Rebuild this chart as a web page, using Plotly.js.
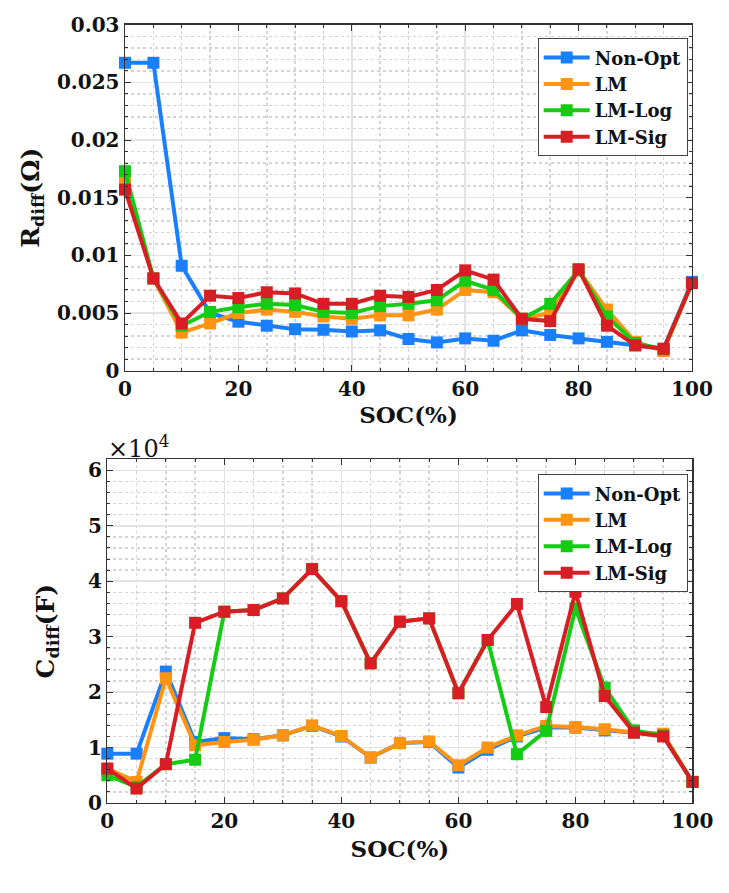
<!DOCTYPE html>
<html>
<head>
<meta charset="utf-8">
<script src="https://cdn.plot.ly/plotly-3.0.1.min.js"></script>
<style>
  html, body { margin: 0; padding: 0; background: #fff; }
  #chart { width: 729px; height: 893px; }
</style>
</head>
<body>
<div id="chart"></div>
<script>
// SOC points, every 5 %
var soc = [0, 5, 10, 15, 20, 25, 30, 35, 40, 45, 50, 55, 60, 65, 70, 75, 80, 85, 90, 95, 100];

var seriesNames = ['Non-Opt', 'LM', 'LM-Log', 'LM-Sig'];
var seriesColors = ['#1a7fff', '#ff9412', '#14cc14', '#d81e24'];

// R_diff (Ohm)
var rNonOpt = [0.0267, 0.0267, 0.0091, 0.0050, 0.00425, 0.0039, 0.0036, 0.00355, 0.0034, 0.0035, 0.00275,
               0.00245, 0.0028, 0.0026, 0.0035, 0.0031, 0.0028, 0.0025, 0.0022, 0.0019, 0.0077];
var rLM    = [0.0165, 0.0080, 0.0033, 0.0041, 0.0050, 0.0053, 0.0051, 0.0047, 0.0045, 0.0048, 0.0048,
               0.0053, 0.0070, 0.0068, 0.0045, 0.0050, 0.0087, 0.0053, 0.0025, 0.0017, 0.0076];
var rLMLog = [0.0173, 0.0080, 0.0039, 0.0051, 0.0055, 0.0058, 0.0057, 0.0051, 0.0050, 0.0056, 0.0058,
               0.0061, 0.0078, 0.0070, 0.0045, 0.0058, 0.0087, 0.0047, 0.0024, 0.00185, 0.0076];
var rLMSig = [0.0157, 0.0080, 0.0041, 0.0065, 0.0063, 0.0068, 0.0067, 0.0058, 0.0058, 0.0065, 0.0064,
               0.0070, 0.0087, 0.0079, 0.0045, 0.0043, 0.0088, 0.0039, 0.0022, 0.0019, 0.0076];

// C_diff (x10^4 F)
var cNonOpt = [0.89, 0.89, 2.37, 1.10, 1.17, 1.15, 1.22, 1.39, 1.20, 0.82, 1.08,
               1.10, 0.64, 0.96, 1.20, 1.36, 1.36, 1.31, 1.27, 1.22, 0.38];
var cLM    = [0.62, 0.38, 2.25, 1.04, 1.10, 1.14, 1.22, 1.40, 1.21, 0.82, 1.08,
               1.11, 0.68, 1.00, 1.22, 1.39, 1.37, 1.33, 1.27, 1.25, 0.38];
var cLMLog = [0.50, 0.29, 0.70, 0.78, 3.45, 3.48, 3.69, 4.22, 3.64, 2.52, 3.27,
               3.33, 1.98, 2.94, 0.88, 1.30, 3.51, 2.08, 1.31, 1.22, 0.38];
var cLMSig = [0.62, 0.26, 0.70, 3.25, 3.45, 3.48, 3.69, 4.22, 3.64, 2.52, 3.27,
               3.33, 1.98, 2.94, 3.59, 1.73, 3.81, 1.93, 1.27, 1.20, 0.38];

// Liberation Serif did not show up in the renderer, DejaVu Serif does
var fontFam = 'DejaVu Serif';

function makeTrace(y, i, xa, ya, legendId)
{
    return {
        x: soc,
        y: y,
        xaxis: xa,
        yaxis: ya,
        legend: legendId,
        name: '<b>' + seriesNames[i] + '</b>',
        mode: 'lines+markers',
        line: { color: seriesColors[i], width: 4 },
        marker: { symbol: 'square', size: 12, color: seriesColors[i] },
        cliponaxis: false
    };
}

var rData = [rNonOpt, rLM, rLMLog, rLMSig];
var cData = [cNonOpt, cLM, cLMLog, cLMSig];
var traces = [];
rData.forEach(function(y, i) { traces.push(makeTrace(y, i, 'x', 'y', 'legend')); });
cData.forEach(function(y, i) { traces.push(makeTrace(y, i, 'x2', 'y2', 'legend2')); });

function axisBase()
{
    return {
        showline: true,
        linecolor: '#333',
        linewidth: 1.5,
        mirror: 'ticks',
        ticks: 'inside',
        ticklen: 6,
        tickcolor: '#333',
        showgrid: true,
        gridcolor: '#e3e3e3',
        gridwidth: 1.5,
        zeroline: false,
        tickfont: { family: fontFam, size: 20, color: '#111', weight: 'bold' }
    };
}

var xTop = Object.assign(axisBase(), {
    domain: [0.1715, 0.9492], anchor: 'y', range: [0, 100], dtick: 20,
    minor: { dtick: 5, showgrid: true, gridcolor: '#d4d4d4', griddash: 'dot', ticks: 'inside', ticklen: 3 },
    title: { text: '<b>SOC(%)</b>', font: { family: fontFam, size: 23, color: '#111' }, standoff: 6 }
});
var yTop = Object.assign(axisBase(), {
    domain: [0.5849, 0.9723], anchor: 'x', range: [0, 0.03], dtick: 0.005,
    tickformat: '~g',
    minor: { dtick: 0.001, showgrid: true, gridcolor: '#d4d4d4', griddash: 'dot', ticks: 'inside', ticklen: 3 },
    title: { text: '<b>R<sub>diff</sub>(Ω)</b>', font: { family: fontFam, size: 25, color: '#111' }, standoff: 10 }
});
var xBot = Object.assign(axisBase(), {
    domain: [0.1472, 0.9499], anchor: 'y2', range: [0, 100], dtick: 20,
    minor: { dtick: 5, showgrid: true, gridcolor: '#d4d4d4', griddash: 'dot', ticks: 'inside', ticklen: 3 },
    title: { text: '<b>SOC(%)</b>', font: { family: fontFam, size: 23, color: '#111' }, standoff: 8 }
});
var yBot = Object.assign(axisBase(), {
    domain: [0.1008, 0.4857], anchor: 'x2', range: [0, 6.2], dtick: 1,
    minor: { dtick: 0.2, showgrid: true, gridcolor: '#d4d4d4', griddash: 'dot', ticks: 'inside', ticklen: 3 },
    title: { text: '<b>C<sub>diff</sub>(F)</b>', font: { family: fontFam, size: 25, color: '#111' }, standoff: 26 }
});

function legendBox(yTopPaper)
{
    return {
        x: 0.7376, y: yTopPaper, xanchor: 'left', yanchor: 'top',
        bgcolor: '#fff', bordercolor: '#444', borderwidth: 1,
        font: { family: fontFam, size: 18, color: '#111' },
        itemwidth: 46, tracegroupgap: 0
    };
}

var layout = {
    width: 729,
    height: 893,
    margin: { l: 0, r: 0, t: 0, b: 0 },
    paper_bgcolor: '#fff',
    plot_bgcolor: '#fff',
    showlegend: true,
    font: { family: fontFam },
    xaxis: xTop,
    yaxis: yTop,
    xaxis2: xBot,
    yaxis2: yBot,
    legend: legendBox(0.9571),
    legend2: legendBox(0.4689),
    annotations: [{
        text: '×10<sup>4</sup>',
        xref: 'paper', yref: 'paper',
        x: 0.145, y: 0.479, xanchor: 'left', yanchor: 'bottom',
        showarrow: false,
        font: { family: fontFam, size: 24, color: '#111' }
    }]
};

Plotly.newPlot('chart', traces, layout, { displayModeBar: false, staticPlot: true });
</script>
</body>
</html>
